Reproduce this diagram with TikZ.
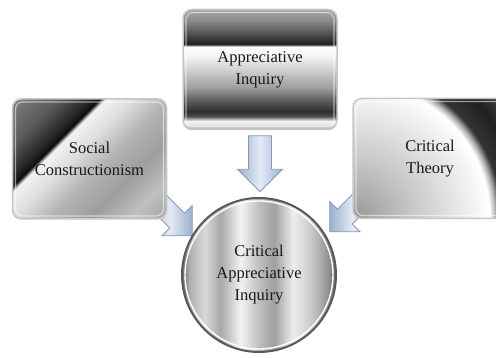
\documentclass[tikz,border=0pt]{standalone}
\usepackage{fontspec}
\setmainfont{Liberation Serif}
\usetikzlibrary{shapes.arrows}
\definecolor{arrowL}{HTML}{E4EBF5}
\definecolor{arrowR}{HTML}{9DB0CE}
\definecolor{arrowedge}{HTML}{8A9BB8}
\pgfdeclarehorizontalshading{cairing}{100bp}{%
color(0bp)=(black!58); color(25bp)=(black!58);
color(27.5bp)=(black!31); color(32.5bp)=(black!15); color(37.5bp)=(black!34);
color(44bp)=(black!5); color(50bp)=(black!25); color(55bp)=(black!37);
color(61bp)=(black!7); color(66bp)=(black!18); color(71bp)=(black!37);
color(75bp)=(black!56); color(100bp)=(black!56)}
\pgfdeclareverticalshading{topshade}{100bp}{%
color(0bp)=(black!35); color(25bp)=(black!35);
color(26.5bp)=(black!15); color(28.5bp)=(black!3); color(30.5bp)=(black!70);
color(32.5bp)=(black!82); color(37.5bp)=(black!62); color(42.5bp)=(black!38);
color(50bp)=(black!18); color(56bp)=(black!4); color(59.5bp)=(white);
color(60.5bp)=(black!88); color(64.5bp)=(black!70); color(70.5bp)=(black!45);
color(75bp)=(black!35); color(100bp)=(black!35)}
\pgfdeclarehorizontalshading{socshade}{100bp}{%
color(0bp)=(black!50); color(25.8bp)=(black!50);
color(34.1bp)=(black!65); color(39.4bp)=(black!85); color(41.2bp)=(black!95);
color(42.2bp)=(black!5); color(46.5bp)=(black!12); color(53.5bp)=(black!30);
color(60.6bp)=(black!38); color(67.7bp)=(black!25); color(74.2bp)=(black!35);
color(100bp)=(black!35)}
\pgfdeclareradialshading{critshade}{\pgfpointorigin}{%
color(0bp)=(black!40); color(6.5bp)=(black!22); color(13bp)=(black!6);
color(15.3bp)=(white); color(15.9bp)=(black!30); color(16.6bp)=(black!80);
color(19bp)=(black!87); color(25bp)=(black!55); color(50bp)=(black!55)}
\tikzset{
  box/.style={rectangle, rounded corners=9pt, minimum width=154pt, minimum height=120pt,
    draw=black!22, line width=1.5pt, align=center, text=black!90},
  rim/.style={draw=white, draw opacity=0.55, line width=1.2pt, rounded corners=7pt},
  fatarrow/.style={single arrow, draw=arrowedge, line width=0.8pt, minimum width=44pt,
    single arrow head extend=11pt, inner xsep=0pt, inner ysep=11pt, left color=arrowR, right color=arrowR,
    middle color=arrowL},
}
\begin{document}
\begin{tikzpicture}[x=1pt,y=1pt,font=\fontsize{16.5}{22}\selectfont]
\useasboundingbox (0,0) rectangle (496,358);
\fill[white] (0,0) rectangle (496,358);
\clip (0,0) rectangle (496,358);
% block arrows
\node[fatarrow, minimum height=56pt, rotate=-90] (arrT) at (260,200) {};
\node[fatarrow, minimum height=54pt, minimum width=42pt, inner ysep=10pt, rotate=-45] (arrL) at (169.5,145) {};
\node[fatarrow, minimum height=54pt, minimum width=42pt, inner ysep=10pt, rotate=-135] (arrR) at (352.5,149) {};
% boxes
\node[box, fill=black!50, path picture={
  \fill[shading=socshade, shading angle=-45]
    ([shift={(-100pt,-100pt)}]path picture bounding box.center) rectangle
    ([shift={(100pt,100pt)}]path picture bounding box.center);
  \path[rim] ([shift={(3pt,3pt)}]path picture bounding box.south west) rectangle
    ([shift={(-3pt,-3pt)}]path picture bounding box.north east);}]
  (soc) at (89.5,199) {Social\\Constructionism};
\node[box, shading=topshade, path picture={
  \path[rim] ([shift={(3pt,3pt)}]path picture bounding box.south west) rectangle
    ([shift={(-3pt,-3pt)}]path picture bounding box.north east);}]
  (api) at (260,288.5) {Appreciative\\Inquiry};
\node[box, fill=black!80, path picture={
  \fill[shading=critshade] ([shift={(2pt,1pt)}]path picture bounding box.south west) circle (220pt);
  \path[rim] ([shift={(3pt,3pt)}]path picture bounding box.south west) rectangle
    ([shift={(-3pt,-3pt)}]path picture bounding box.north east);}]
  (crit) at (430,199.5) {Critical\\Theory};
% central circle
\node[circle, minimum size=154pt, inner sep=0pt, shading=cairing, draw=black!65, line width=2pt,
  align=center, text=black!90,
  path picture={\draw[white, line width=1.4pt] (path picture bounding box.center) circle (74pt);}]
  (cai) at (259,83) {Critical\\Appreciative\\Inquiry};
\end{tikzpicture}
\end{document}
